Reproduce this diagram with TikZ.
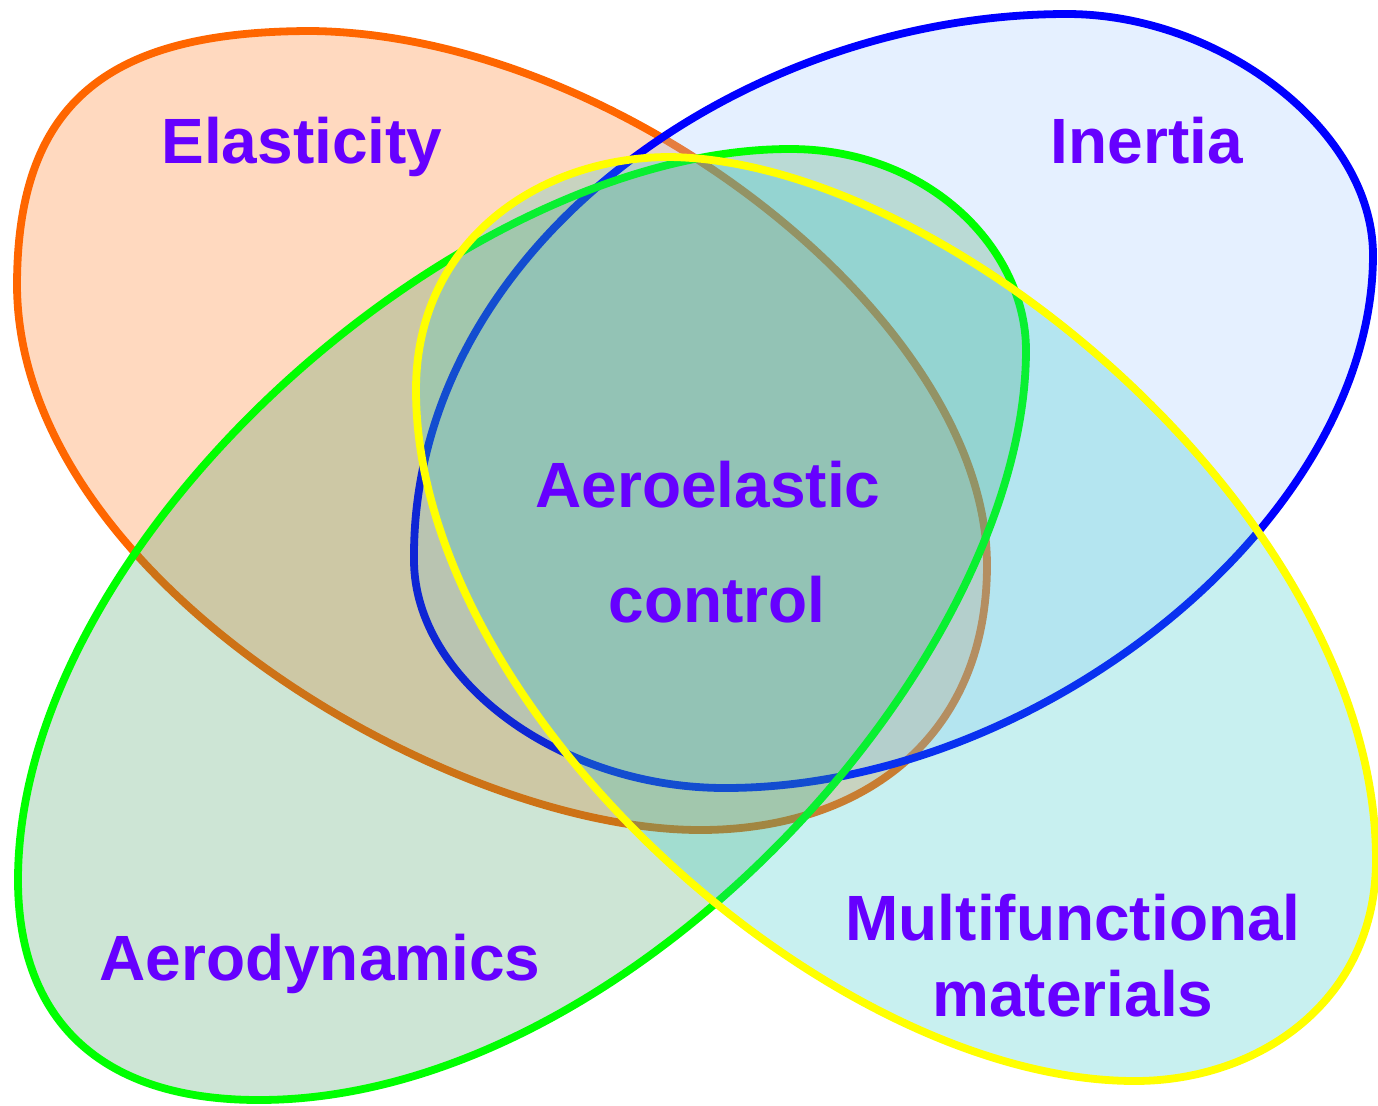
\documentclass[tikz,border=0pt]{standalone}
\usepackage{fontspec}
\setmainfont{Liberation Sans}
\definecolor{eorange}{HTML}{FF6600}
\definecolor{eblue}{HTML}{0000FF}
\definecolor{egreen}{HTML}{00FF00}
\definecolor{eyellow}{HTML}{FFFF00}
\definecolor{fillor}{HTML}{FF6600}
\definecolor{fillbl}{RGB}{152,196,255}
\definecolor{fillgr}{RGB}{56,152,88}
\definecolor{fillye}{RGB}{36,196,196}
\definecolor{txt}{HTML}{6600FF}
\begin{document}
\begin{tikzpicture}[x=0.5pt,y=-0.5pt,
  blob/.style={line width=3.9pt, fill opacity=0.25, line join=round},
  lbl/.style={text=txt, font=\fontsize{32}{38}\selectfont\bfseries, anchor=base, inner sep=0pt}]
\useasboundingbox (0,0) rectangle (1378,1105);
% Elasticity (orange)
\draw[blob, draw=eorange, fill=fillor]
  (17,286) .. controls (17,100) and (110,31) .. (312,31)
  .. controls (620,35) and (987,320) .. (987,565)
  .. controls (987,740) and (860,830) .. (700,830)
  .. controls (450,830) and (19,580) .. cycle;
% Inertia (blue)
\draw[blob, draw=eblue, fill=fillbl]
  (1067,14) .. controls (1220,14) and (1373,130) .. (1373,255)
  .. controls (1373,520) and (1040,788) .. (725,788)
  .. controls (560,788) and (414,680) .. (414,560)
  .. controls (411,250) and (740,14) .. cycle;
% Aerodynamics (green)
\draw[blob, draw=egreen, fill=fillgr]
  (790,149) .. controls (930,149) and (1026,250) .. (1026,350)
  .. controls (1026,660) and (630,1100) .. (259,1100)
  .. controls (90,1100) and (18,1010) .. (18,880)
  .. controls (18,540) and (460,149) .. cycle;
% Multifunctional materials (yellow)
\draw[blob, draw=eyellow, fill=fillye]
  (416,390) .. controls (416,240) and (540,157) .. (670,157)
  .. controls (950,161) and (1376,520) .. (1376,860)
  .. controls (1376,1000) and (1260,1081) .. (1135,1081)
  .. controls (830,1081) and (416,710) .. cycle;
\node[lbl] (elast) at (302,163) {Elasticity};
\node[lbl] (inert) at (1147,163) {Inertia};
\node[lbl] (aero1) at (708,507) {Aeroelastic};
\node[lbl] (aero2) at (717,622) {control};
\node[lbl] (aerod) at (320,980) {Aerodynamics};
\node[lbl] (multi1) at (1073,940) {Multifunctional};
\node[lbl] (multi2) at (1073,1016) {materials};
\end{tikzpicture}
\end{document}
